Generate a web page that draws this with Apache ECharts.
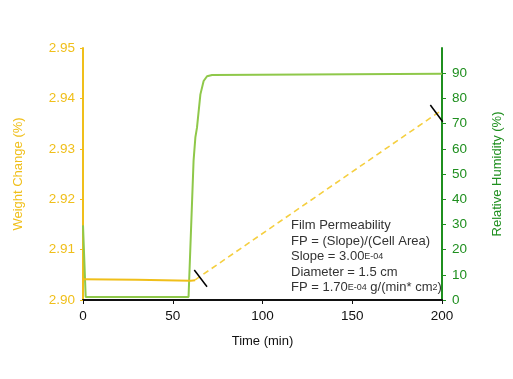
<!DOCTYPE html>
<html>
<head>
<meta charset="utf-8">
<script src="https://cdn.jsdelivr.net/npm/echarts@6/dist/echarts.min.js"></script>
<style>html,body{margin:0;padding:0;background:#fff;}#c{width:513px;height:379px;}</style>
</head>
<body>
<div id="c"></div>
<script>
// Relative humidity (right axis)
var rhTime = [0, 1.5, 58.8, 61.6, 62.6, 63.5, 65.4, 67.2, 69.1, 71.9, 72.8, 200];
var rhValue = [29.6, 1.2, 1.2, 55.3, 64.5, 68.4, 81.6, 86.9, 88.8, 89.3, 89.8, 89.8];
// Weight change, measured (left axis)
var wTime = [0, 30, 60, 62.5];
var wValue = [2.9041, 2.9040, 2.9038, 2.9039];
// Weight change, linear fit (dashed)
var fitTime = [62.5, 200];
var fitValue = [2.9040, 2.9377];
// Black marker strokes
var markA = [[62.0, 2.90595], [69.1, 2.90264]];
var markB = [[193.5, 2.9387], [200.4, 2.93538]];
var xTicks = {min: 0, max: 200, interval: 50};
var annotation = 'Film Permeability\nFP = (Slope)/(Cell Area)\nSlope = 3.00{s|E-04}\nDiameter = 1.5 cm\nFP = 1.70{s|E-04} g/(min* cm{s|2})';

var YEL = '#f0bf1a', YEL2 = '#f5cf40', GRN = '#1f8f1f', LGRN = '#8fc84a';
var font = 'Liberation Sans, Arial, sans-serif';
function zip(a, b) { return a.map(function (v, i) { return [v, b[i]]; }); }

var chart = echarts.init(document.getElementById('c'));
chart.setOption({
  animation: false,
  backgroundColor: '#fff',
  grid: {left: 83, right: 71, top: 48, bottom: 79, containLabel: false},
  xAxis: {
    type: 'value', min: xTicks.min, max: xTicks.max, interval: xTicks.interval,
    name: 'Time (min)', nameLocation: 'middle', nameGap: 35,
    nameTextStyle: {color: '#111', fontSize: 13, fontFamily: font},
    axisLine: {lineStyle: {color: '#111', width: 2}},
    axisTick: {lineStyle: {color: '#111'}, length: 4},
    axisLabel: {color: '#111', fontSize: 13.5, fontFamily: font, margin: 9},
    splitLine: {show: false}
  },
  yAxis: [{
    type: 'value', min: 2.90, max: 2.95, interval: 0.01, position: 'left',
    name: 'Weight Change (%)', nameLocation: 'middle', nameGap: 58,
    nameTextStyle: {color: YEL, fontSize: 13, fontFamily: font},
    axisLine: {show: true, lineStyle: {color: YEL, width: 2}},
    axisTick: {show: true, lineStyle: {color: YEL}, length: 3},
    axisLabel: {color: YEL, fontSize: 13.5, fontFamily: font, margin: 8,
      formatter: function (v) { return v.toFixed(2); }},
    splitLine: {show: false}
  }, {
    type: 'value', min: 0, max: 100, interval: 10, position: 'right',
    name: 'Relative Humidity (%)', nameLocation: 'middle', nameGap: 49,
    nameTextStyle: {color: GRN, fontSize: 13, fontFamily: font},
    axisLine: {show: true, lineStyle: {color: GRN, width: 2}},
    axisTick: {show: true, lineStyle: {color: GRN}, length: 4},
    axisLabel: {color: GRN, fontSize: 13.5, fontFamily: font, margin: 10, showMaxLabel: false},
    splitLine: {show: false}
  }],
  series: [{
    type: 'line', yAxisIndex: 1, symbol: 'none', data: zip(rhTime, rhValue),
    lineStyle: {color: LGRN, width: 2}
  }, {
    type: 'line', yAxisIndex: 0, symbol: 'none', data: zip(fitTime, fitValue),
    lineStyle: {color: YEL2, width: 1.6, type: [6, 4]}
  }, {
    type: 'line', yAxisIndex: 0, symbol: 'none', data: zip(wTime, wValue),
    lineStyle: {color: YEL, width: 2}
  }, {
    type: 'line', yAxisIndex: 0, symbol: 'none', data: markA, clip: false,
    lineStyle: {color: '#000', width: 1.5}
  }, {
    type: 'line', yAxisIndex: 0, symbol: 'none', data: markB, clip: false,
    lineStyle: {color: '#000', width: 1.5}
  }],
  graphic: [{
    type: 'text', left: 291, top: 218, z: 10,
    style: {
      text: annotation, fill: '#333', fontSize: 13, fontFamily: font, lineHeight: 15.5,
      rich: {s: {fontSize: 9, fill: '#333', fontFamily: font, verticalAlign: 'middle', lineHeight: 15.5}}
    }
  }]
});
</script>
</body>
</html>
